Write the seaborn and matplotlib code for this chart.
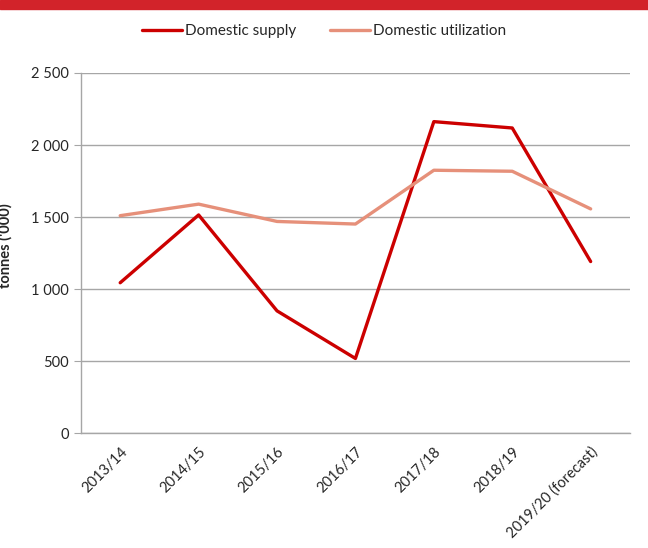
import numpy as np
import pandas as pd
import matplotlib
matplotlib.use("Agg")
import matplotlib.pyplot as plt
import matplotlib.ticker as mticker
import seaborn as sns

# Data (tonnes '000)
years = ["2013/14", "2014/15", "2015/16", "2016/17", "2017/18", "2018/19", "2019/20 (forecast)"]
domestic_supply = [1045, 1515, 850, 520, 2162, 2118, 1192]
domestic_utilization = [1510, 1590, 1470, 1452, 1825, 1818, 1557]

df = pd.DataFrame({
    "year": years * 2,
    "value": domestic_supply + domestic_utilization,
    "series": ["Domestic supply"] * len(years) + ["Domestic utilization"] * len(years),
})

sns.set_style("white")
plt.rcParams["font.family"] = ["Lato", "DejaVu Sans"]

fig = plt.figure(figsize=(6.48, 5.48), dpi=100)
ax = fig.add_axes([0.125, 0.209, 0.847, 0.658])

sns.lineplot(data=df, x="year", y="value", hue="series", sort=False,
             palette={"Domestic supply": "#CC0000", "Domestic utilization": "#E6907A"},
             linewidth=2.4, ax=ax)

# axes range and grid
ax.set_xlim(-0.5, len(years) - 0.5)
ax.set_ylim(0, 2500)
ax.yaxis.set_major_locator(mticker.MultipleLocator(500))
ax.yaxis.set_major_formatter(mticker.FuncFormatter(lambda v, p: f"{int(v):,}".replace(",", " ")))
ax.grid(axis="y", color="#A6A6A6", linewidth=1)
ax.set_axisbelow(True)

for side in ["top", "right"]:
    ax.spines[side].set_visible(False)
for side in ["left", "bottom"]:
    ax.spines[side].set_color("#A6A6A6")
    ax.spines[side].set_linewidth(1)

# ticks between categories on x axis
ax.set_xticks(np.arange(len(years)))
ax.set_xticklabels(years, rotation=45, ha="right", rotation_mode="anchor", fontsize=10.5)
ax.set_xticks(np.arange(-0.5, len(years)), minor=True)
ax.tick_params(axis="x", which="major", length=0, pad=8)
ax.tick_params(axis="x", which="minor", length=5, color="#A6A6A6", direction="out")
ax.tick_params(axis="y", length=5, color="#A6A6A6", direction="out", labelsize=10.5, left=True)

ax.set_xlabel("")
ax.set_ylabel("tonnes ('000)", fontsize=10.5, fontweight="bold")
ax.yaxis.set_label_coords(-0.124, 0.52)

handles, labels = ax.get_legend_handles_labels()
ax.get_legend().remove()
fig.legend(handles, labels, loc="center", bbox_to_anchor=(0.5, 0.943), ncol=2,
           frameon=False, fontsize=11, handlelength=2.6, handletextpad=0.2,
           columnspacing=2.2)

# red banner along the top
fig.patches.append(plt.Rectangle((0, 0.984), 1, 0.016, transform=fig.transFigure,
                                 color="#D2232A", zorder=5))

fig.savefig("out.png", dpi=100)
